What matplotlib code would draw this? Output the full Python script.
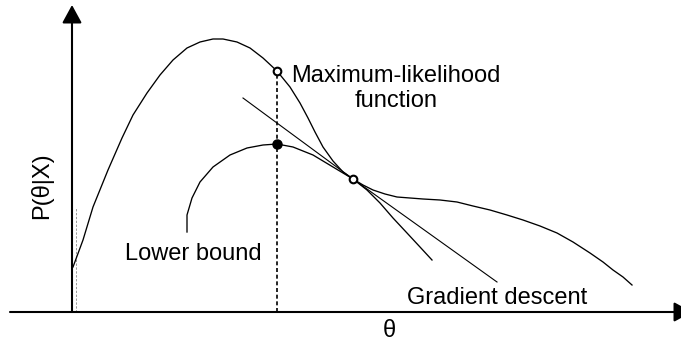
import numpy as np
from matplotlib import pyplot as plt

plt.rcParams['font.family'] = ['Liberation Sans', 'DejaVu Sans']

# points, theta along x and P(theta|X) up, origin at the axes corner
ml_theta = [1, 11, 21, 36, 50, 61, 75, 88, 101, 115, 128, 141, 151, 165, 178, 191, 205,
            218, 228, 236, 243, 251, 261, 271, 281, 291, 301, 313, 325, 338, 351, 368,
            385, 401, 418, 435, 451, 468, 485, 501, 518, 531, 541, 551, 560]
ml_p = [45, 72, 105, 142, 174, 197, 219, 237, 252, 264, 270, 273, 273, 270, 264, 254, 241,
        225, 209, 194, 180, 165, 151, 140, 133, 127, 122, 118, 115, 114, 113, 112,
        110, 106, 102, 97, 92, 86, 79, 70, 59, 50, 42, 35, 27]

lb_theta = [115, 115, 120, 128, 141, 158, 175, 191, 205, 221, 241, 261, 281, 295, 308,
            321, 335, 348, 360]
lb_p = [80, 97, 114, 130, 145, 157, 164, 167, 168, 165, 157, 145, 133, 122, 109,
        94, 79, 65, 52]

grad_theta = [171, 281, 425]
grad_p = [214, 133, 30]

theta_cur = 205      # current estimate (dashed drop line)
p_ml_cur = 241       # likelihood at current estimate
p_lb_max = 168       # max of lower bound
touch = (281, 133)   # where bound touches likelihood

fig = plt.figure(figsize=(6.81, 3.5), dpi=100)
ax = fig.add_axes([0, 0, 1, 1])
ax.set_xlim(-72, 609)
ax.set_ylim(-38, 312)
ax.axis('off')

# axes with arrow heads (x arrow runs off the right edge like the scan)
arrow = dict(arrowstyle='-|>,head_length=0.55,head_width=0.3', mutation_scale=20,
             lw=1.5, color='black', shrinkA=0, shrinkB=0)
ax.annotate('', xy=(0, 307), xytext=(0, 0), arrowprops=arrow, annotation_clip=False)
ax.annotate('', xy=(620, 0), xytext=(-62, 0), arrowprops=arrow, annotation_clip=False)

dash = (0, (2.4, 1.6))
ax.plot([theta_cur, theta_cur], [0, p_ml_cur], color='black', lw=1.2, linestyle=dash)
ax.plot([4, 4], [0, 105], color='0.6', lw=0.7, linestyle=dash)

ax.plot(ml_theta, ml_p, color='black', lw=0.95)
ax.plot(lb_theta, lb_p, color='black', lw=0.95)
ax.plot(grad_theta, grad_p, color='black', lw=0.8)

ax.plot(theta_cur, p_ml_cur, 'o', ms=5.5, mfc='white', mec='black', mew=1.5)
ax.plot(touch[0], touch[1], 'o', ms=5.5, mfc='white', mec='black', mew=1.5)
ax.plot(theta_cur, p_lb_max, 'o', ms=6.5, color='black')

fs = 17
ax.text(324, 205, 'Maximum-likelihood\nfunction', fontsize=fs, ha='center', va='baseline',
        linespacing=1.2)
ax.text(121, 52, 'Lower bound', fontsize=fs, ha='center', va='baseline')
ax.text(425, 8, 'Gradient descent', fontsize=fs, ha='center', va='baseline')
ax.text(317, -25, 'θ', fontsize=fs, ha='center', va='baseline')
ax.text(-30, 126, 'P(θ|X)', fontsize=fs, ha='center', va='center', rotation=90)

plt.savefig('out.png', dpi=100)
